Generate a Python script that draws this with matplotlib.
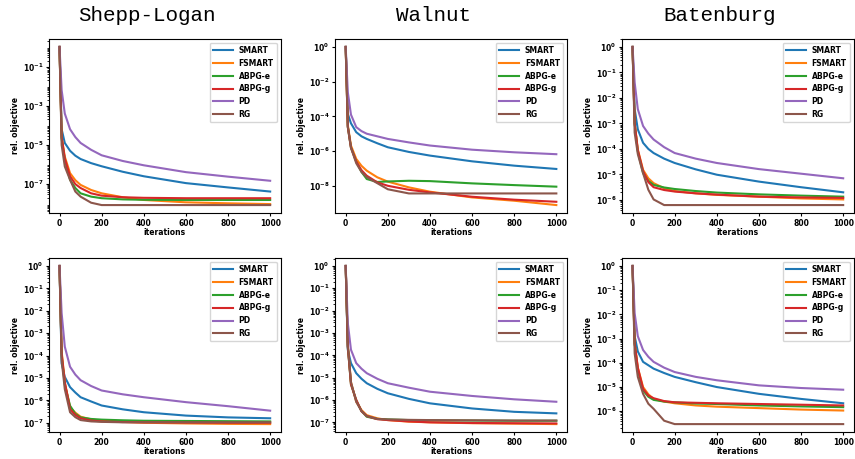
import matplotlib.pyplot as plt
from matplotlib.ticker import LogLocator
import numpy as np

iters = [0, 10, 25, 50, 75, 100, 150, 200, 300, 400, 600, 800, 1000]

methods = ['SMART', 'FSMART', 'ABPG-e', 'ABPG-g', 'PD', 'RG']
colores = ['#1f77b4', '#ff7f0e', '#2ca02c', '#d62728', '#9467bd', '#8c564b']
titulos = ['Shepp-Logan', 'Walnut', 'Batenburg']

# log10 of the relative objective, one list per method and panel
# --- fila de arriba ---
sl1_smart = [0, -4.2, -4.9, -5.3, -5.55, -5.72, -5.93, -6.09, -6.37, -6.6, -6.95, -7.17, -7.38]
sl1_fsmart = [0, -4.6, -5.6, -6.44, -6.8, -7.04, -7.3, -7.47, -7.67, -7.81, -7.93, -7.98, -8.02]
sl1_abpge = [0, -4.7, -5.75, -6.78, -7.2, -7.47, -7.64, -7.72, -7.78, -7.8, -7.81, -7.81, -7.81]
sl1_abpgg = [0, -4.6, -5.7, -6.6, -7.0, -7.2, -7.47, -7.59, -7.67, -7.7, -7.72, -7.72, -7.72]
sl1_pd = [0, -2.2, -3.4, -4.2, -4.6, -4.9, -5.25, -5.53, -5.82, -6.04, -6.39, -6.62, -6.83]
sl1_rg = [0, -5.0, -6.1, -6.78, -7.38, -7.64, -7.95, -8.07, -8.07, -8.07, -8.07, -8.07, -8.07]

w1_smart = [0, -3.85, -4.4, -4.91, -5.15, -5.3, -5.55, -5.78, -6.05, -6.26, -6.59, -6.84, -7.03]
w1_fsmart = [0, -4.5, -5.68, -6.45, -6.85, -7.13, -7.51, -7.76, -8.09, -8.34, -8.67, -8.86, -9.11]
w1_abpge = [0, -4.6, -5.8, -6.6, -7.2, -7.61, -7.78, -7.75, -7.71, -7.73, -7.86, -7.96, -8.05]
w1_abpgg = [0, -4.6, -5.8, -6.6, -7.1, -7.42, -7.8, -8.0, -8.23, -8.38, -8.63, -8.8, -8.92]
w1_pd = [0, -2.6, -3.9, -4.62, -4.85, -5.0, -5.15, -5.3, -5.5, -5.68, -5.92, -6.07, -6.18]
w1_rg = [0, -4.6, -5.8, -6.7, -7.2, -7.5, -7.85, -8.2, -8.44, -8.44, -8.44, -8.44, -8.44]

b1_smart = [0, -2.44, -3.23, -3.76, -4.0, -4.16, -4.38, -4.55, -4.8, -5.01, -5.28, -5.5, -5.7]
b1_fsmart = [0, -3.0, -4.02, -4.82, -5.15, -5.34, -5.54, -5.65, -5.74, -5.8, -5.87, -5.94, -5.98]
b1_abpge = [0, -3.0, -4.1, -4.95, -5.25, -5.41, -5.51, -5.57, -5.65, -5.71, -5.78, -5.83, -5.87]
b1_abpgg = [0, -3.0, -4.05, -4.87, -5.3, -5.5, -5.61, -5.67, -5.74, -5.79, -5.87, -5.9, -5.92]
b1_pd = [0, -1.39, -2.44, -3.1, -3.4, -3.63, -3.93, -4.16, -4.38, -4.55, -4.79, -4.97, -5.15]
b1_rg = [0, -3.36, -4.2, -4.95, -5.6, -5.98, -6.2, -6.2, -6.2, -6.2, -6.2, -6.2, -6.2]

# --- fila de abajo ---
sl2_smart = [0, -4.35, -4.95, -5.41, -5.65, -5.86, -6.05, -6.23, -6.4, -6.53, -6.68, -6.76, -6.8]
sl2_fsmart = [0, -3.8, -5.2, -6.31, -6.55, -6.73, -6.85, -6.91, -6.96, -7.0, -7.03, -7.05, -7.06]
sl2_abpge = [0, -4.0, -5.3, -6.24, -6.6, -6.76, -6.83, -6.86, -6.89, -6.91, -6.92, -6.93, -6.94]
sl2_abpgg = [0, -3.9, -5.2, -6.39, -6.65, -6.8, -6.9, -6.94, -6.97, -6.98, -6.99, -7.0, -7.0]
sl2_pd = [0, -2.1, -3.6, -4.5, -4.85, -5.1, -5.36, -5.56, -5.73, -5.86, -6.08, -6.26, -6.46]
sl2_rg = [0, -4.2, -5.5, -6.53, -6.75, -6.88, -6.94, -6.96, -6.98, -6.98, -6.98, -6.98, -6.98]

w2_smart = [0, -3.75, -4.35, -4.8, -5.05, -5.25, -5.5, -5.7, -5.95, -6.15, -6.38, -6.53, -6.6]
w2_fsmart = [0, -3.5, -5.2, -6.08, -6.45, -6.68, -6.82, -6.9, -6.97, -7.0, -7.04, -7.06, -7.08]
w2_abpge = [0, -3.6, -5.3, -6.0, -6.5, -6.75, -6.85, -6.87, -6.9, -6.91, -6.92, -6.93, -6.93]
w2_abpgg = [0, -3.6, -5.3, -6.0, -6.5, -6.72, -6.86, -6.9, -6.96, -7.0, -7.03, -7.04, -7.05]
w2_pd = [0, -2.55, -3.75, -4.35, -4.6, -4.8, -5.05, -5.25, -5.45, -5.63, -5.82, -5.97, -6.08]
w2_rg = [0, -3.6, -5.2, -6.08, -6.5, -6.72, -6.85, -6.87, -6.89, -6.9, -6.91, -6.92, -6.92]

b2_smart = [0, -2.9, -3.53, -3.96, -4.1, -4.24, -4.42, -4.58, -4.8, -5.0, -5.28, -5.49, -5.67]
b2_fsmart = [0, -3.2, -4.2, -5.0, -5.3, -5.49, -5.6, -5.67, -5.76, -5.81, -5.87, -5.93, -5.97]
b2_abpge = [0, -3.2, -4.3, -5.14, -5.4, -5.53, -5.6, -5.63, -5.68, -5.7, -5.76, -5.8, -5.83]
b2_abpgg = [0, -3.2, -4.2, -5.07, -5.35, -5.46, -5.58, -5.63, -5.65, -5.67, -5.7, -5.73, -5.76]
b2_pd = [0, -1.95, -2.9, -3.47, -3.75, -3.96, -4.2, -4.38, -4.58, -4.72, -4.93, -5.04, -5.11]
b2_rg = [0, -3.61, -4.58, -5.28, -5.69, -5.9, -6.39, -6.53, -6.53, -6.53, -6.53, -6.53, -6.53]

paneles = [
    [sl1_smart, sl1_fsmart, sl1_abpge, sl1_abpgg, sl1_pd, sl1_rg],
    [w1_smart, w1_fsmart, w1_abpge, w1_abpgg, w1_pd, w1_rg],
    [b1_smart, b1_fsmart, b1_abpge, b1_abpgg, b1_pd, b1_rg],
    [sl2_smart, sl2_fsmart, sl2_abpge, sl2_abpgg, sl2_pd, sl2_rg],
    [w2_smart, w2_fsmart, w2_abpge, w2_abpgg, w2_pd, w2_rg],
    [b2_smart, b2_fsmart, b2_abpge, b2_abpgg, b2_pd, b2_rg],
]

plt.rcParams['font.weight'] = 'bold'
plt.rcParams['axes.labelweight'] = 'bold'
plt.rcParams['font.size'] = 5.5

fig = plt.figure(figsize=(8.55, 4.59), dpi=100)

lefts = [0.0573, 0.392, 0.7275]
bottoms = [0.536, 0.0588]

for k, datos in enumerate(paneles):
    fila, col = divmod(k, 3)
    ax = fig.add_axes([lefts[col], bottoms[fila], 0.271, 0.379])
    for nombre, color, serie in zip(methods, colores, datos):
        ax.semilogy(iters, 10.0 ** np.array(serie), color=color, lw=1.5, label=nombre)
    ax.yaxis.set_major_locator(LogLocator(numticks=8))
    ax.set_xlabel('iterations', labelpad=0.5)
    ax.set_ylabel('rel. objective', labelpad=2)
    ax.set_xticks([0, 200, 400, 600, 800, 1000])
    ax.tick_params(length=2.5, pad=1.5)
    ax.tick_params(which='minor', length=1.5)
    ax.legend(loc='upper right', fontsize=5.5, handlelength=2.6)

# titulos de columna
for x, t in zip([147, 433, 720], titulos):
    fig.text(x / 855, 0.967, t, ha='center', va='center',
             family='Liberation Mono', fontsize=15, fontweight='normal')

fig.savefig('out.png', dpi=100)
